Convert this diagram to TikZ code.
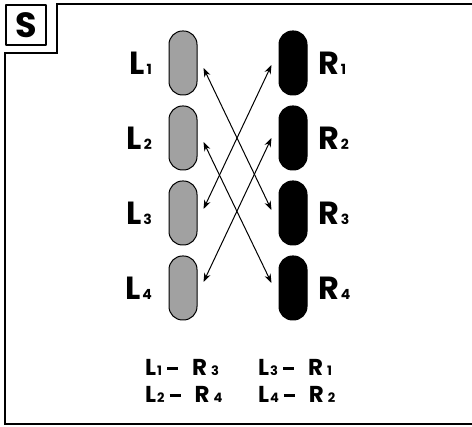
\documentclass[tikz,border=0pt]{standalone}
\usepackage{fontspec}
\setmainfont{Poppins}
\usetikzlibrary{positioning,calc,arrows.meta}
\newcommand{\pname}[2]{{\fontsize{32}{32}\selectfont\bfseries #1}\hspace{2pt}{\fontsize{14}{14}\selectfont\bfseries #2}}
\newcommand{\pmatch}[4]{{\fontsize{23}{23}\selectfont\bfseries #1}\hspace{1pt}{\fontsize{13}{13}\selectfont\bfseries #2}\hspace{5pt}\rule[6pt]{11pt}{3pt}\hspace{14pt}{\fontsize{23}{23}\selectfont\bfseries #3}\hspace{4pt}{\fontsize{13}{13}\selectfont\bfseries #4}}
\begin{document}
\begin{tikzpicture}[line join=round, line cap=round, >={Stealth[length=9pt,width=6.5pt]}, x=1pt, y=-1pt]
		\tikzset{pill/.style={draw, line width=1pt, rounded corners=13.5pt, minimum width=28pt, minimum height=64pt, inner sep=0pt},
			lpill/.style={pill, fill=black!37},
			rpill/.style={pill, fill=black},
			link/.style={<->, line width=1pt}}
		\useasboundingbox (0,0) rectangle (472,427);
		\draw[line width=2.4pt, line cap=butt, line join=miter] (472,4) -- (57,4) -- (57,53) -- (5,53) -- (5,424) -- (472,424);
		\node[draw, line width=2.4pt, minimum size=40pt, inner sep=0pt] (sbox) at (26,25) {\fontsize{35}{35}\selectfont\bfseries S};
		\node[lpill] (l1) at (183,63) {};
		\node[lpill, below=10pt of l1] (l2) {};
		\node[lpill, below=10pt of l2] (l3) {};
		\node[lpill, below=10pt of l3] (l4) {};
		\node[rpill] (r1) at (293,63) {};
		\node[rpill, below=10pt of r1] (r2) {};
		\node[rpill, below=10pt of r2] (r3) {};
		\node[rpill, below=10pt of r3] (r4) {};
		\foreach \i in {1,...,4} {
			\node[left=13pt of l\i] (ln\i) {\pname{L}{\i}};
			\node[right=7pt of r\i] (rn\i) {\pname{R}{\i}};
		}
		\draw[link] ($(l1.east)+(6,5)$) -- ($(r3.west)+(-7,-3)$);
		\draw[link] ($(l2.east)+(6,4)$) -- ($(r4.west)+(-7,-5)$);
		\draw[link] ($(l3.east)+(6,-4)$) -- ($(r1.west)+(-7,2)$);
		\draw[link] ($(l4.east)+(6,-6)$) -- ($(r2.west)+(-7,0)$);
		\node[anchor=base west, inner sep=0pt] (m13) at (145,376) {\pmatch{L}{1}{R}{3}};
		\node[anchor=base west, inner sep=0pt] (m31) at (258,376) {\pmatch{L}{3}{R}{1}};
		\node[anchor=base west, inner sep=0pt] (m24) at (145,403) {\pmatch{L}{2}{R}{4}};
		\node[anchor=base west, inner sep=0pt] (m42) at (258,403) {\pmatch{L}{4}{R}{2}};
\end{tikzpicture}
\end{document}
